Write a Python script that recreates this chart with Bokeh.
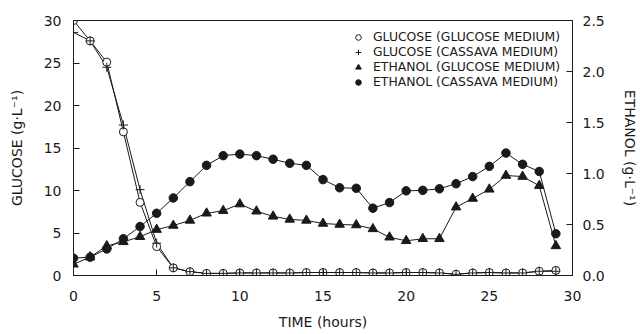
from bokeh.plotting import figure
from bokeh.models import (LinearAxis, Range1d, SingleIntervalTicker, PrintfTickFormatter,
                          Legend, LegendItem)
from bokeh.embed import file_html
from bokeh.resources import INLINE

time_h = list(range(30))
glucose_glc = [30.0, 27.6, 25.1, 16.9, 8.6, 3.4, 0.9, 0.45, 0.25, 0.25, 0.3, 0.3, 0.3, 0.3, 0.35,
               0.35, 0.35, 0.35, 0.3, 0.3, 0.35, 0.35, 0.3, 0.15, 0.3, 0.35, 0.3, 0.3, 0.5, 0.6]
glucose_cas = [28.6, 27.6, 24.5, 17.7, 10.1, 3.8, 0.9, 0.45, 0.25, 0.25, 0.3, 0.3, 0.3, 0.3, 0.35,
               0.35, 0.35, 0.35, 0.3, 0.3, 0.35, 0.35, 0.3, 0.15, 0.3, 0.35, 0.3, 0.3, 0.5, 0.5]
ethanol_glc = [0.11, 0.18, 0.29, 0.33, 0.38, 0.45, 0.49, 0.54, 0.61, 0.635, 0.70, 0.63, 0.58, 0.55, 0.54,
               0.51, 0.50, 0.495, 0.457, 0.375, 0.34, 0.36, 0.36, 0.67, 0.755, 0.845, 0.98, 0.97, 0.88, 0.29]
ethanol_cas = [0.17, 0.18, 0.26, 0.36, 0.48, 0.61, 0.76, 0.92, 1.08, 1.175, 1.19, 1.175, 1.14, 1.10, 1.08,
               0.94, 0.86, 0.855, 0.66, 0.715, 0.83, 0.835, 0.85, 0.90, 0.97, 1.07, 1.20, 1.09, 1.02, 0.41]

legend_labels = ["GLUCOSE (GLUCOSE MEDIUM)", "GLUCOSE (CASSAVA MEDIUM)",
                 "ETHANOL (GLUCOSE MEDIUM)", "ETHANOL (CASSAVA MEDIUM)"]

FONT = "DejaVu Sans"
INK = "#1a1a1a"

p = figure(width=640, height=332, output_backend="svg", toolbar_location=None,
           x_range=Range1d(0, 30), y_range=Range1d(0, 30),
           min_border_left=73, min_border_right=59, min_border_top=20, min_border_bottom=55)
p.extra_y_ranges = {"eth": Range1d(0, 2.5)}
p.grid.visible = False
p.outline_line_color = INK
p.outline_line_width = 1
p.background_fill_color = "white"
p.border_fill_color = "white"

def style_axis(ax):
    ax.axis_line_color = INK
    ax.major_tick_line_color = INK
    ax.major_tick_in = 6
    ax.major_tick_out = 0
    ax.minor_tick_line_color = None
    ax.major_label_text_font = FONT
    ax.major_label_text_font_size = "14px"
    ax.major_label_text_color = INK
    ax.axis_label_text_font = FONT
    ax.axis_label_text_font_size = "14px"
    ax.axis_label_text_font_style = "normal"
    ax.axis_label_text_color = INK

p.xaxis.ticker = SingleIntervalTicker(interval=5)
p.yaxis.ticker = SingleIntervalTicker(interval=5)
p.xaxis.axis_label = "TIME (hours)"
p.yaxis.axis_label = "GLUCOSE (g·L⁻¹)"
style_axis(p.xaxis[0])
style_axis(p.yaxis[0])
p.xaxis.major_label_standoff = 11
p.xaxis.axis_label_standoff = 10
p.yaxis.major_label_standoff = 8
p.yaxis.axis_label_standoff = 16

ax2 = LinearAxis(y_range_name="eth", ticker=SingleIntervalTicker(interval=0.5),
                 formatter=PrintfTickFormatter(format="%.1f"),
                 axis_label="ETHANOL (g·L⁻¹)")
style_axis(ax2)
ax2.major_label_standoff = 6
ax2.axis_label_standoff = 14
p.add_layout(ax2, "right")

lw = 1
# lines
p.line(time_h, glucose_cas, line_color=INK, line_width=lw)
p.line(time_h, glucose_glc, line_color=INK, line_width=lw)
p.line(time_h, ethanol_glc, line_color=INK, line_width=lw, y_range_name="eth")
p.line(time_h, ethanol_cas, line_color=INK, line_width=lw, y_range_name="eth")

# markers
r_tri = p.scatter(time_h, ethanol_glc, marker="triangle", size=9.5, fill_color=INK,
                  line_color=INK, y_range_name="eth")
r_fc = p.scatter(time_h, ethanol_cas, marker="circle", size=8.5, fill_color=INK,
                 line_color=INK, y_range_name="eth")
r_oc = p.scatter(time_h, glucose_glc, marker="circle", size=8, fill_color="white",
                 line_color=INK, line_width=1)
r_pl = p.scatter(time_h, glucose_cas, marker="cross", size=9, line_color=INK, line_width=1)

legend_renderers = [r_oc, r_pl, r_tri, r_fc]
legend = Legend(items=[LegendItem(label=lab, renderers=[r])
                       for lab, r in zip(legend_labels, legend_renderers)],
                location=(276, 186))
legend.padding = 0
legend.margin = 0
legend.spacing = 0
legend.glyph_width = 18
legend.glyph_height = 14
legend.label_height = 14
legend.label_standoff = 6
legend.label_text_font = FONT
legend.label_text_font_size = "12.4px"
legend.label_text_line_height = 0.9
legend.label_text_color = INK
legend.border_line_color = None
legend.background_fill_alpha = 0
p.add_layout(legend, "center")

open("out.html", "w").write(file_html(p, INLINE))
